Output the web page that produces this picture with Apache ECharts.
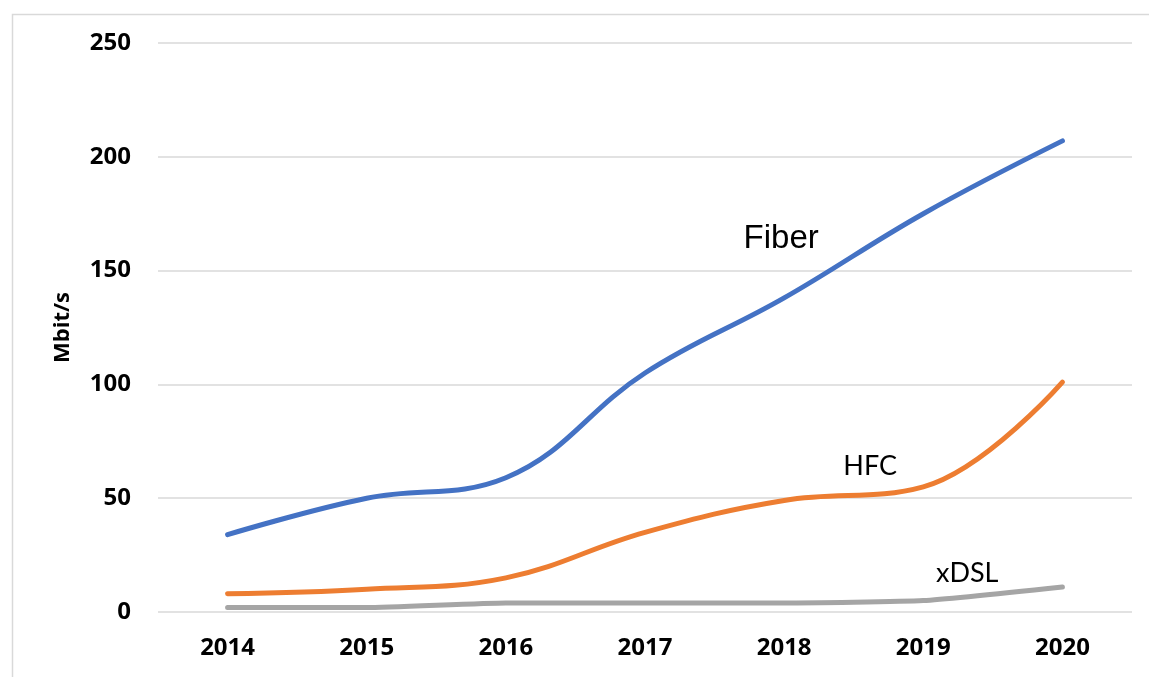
<!DOCTYPE html>
<html>
<head>
<meta charset="utf-8">
<script src="https://cdn.jsdelivr.net/npm/echarts@6/dist/echarts.min.js"></script>
<style>
  html, body { margin: 0; padding: 0; background: #fff; }
  #chart { width: 1149px; height: 677px; }
</style>
</head>
<body>
<div id="chart"></div>
<script>
// Average broadband download speed by access technology (Mbit/s)
const years = ['2014', '2015', '2016', '2017', '2018', '2019', '2020'];
const fiber = [34, 50, 59, 105, 138, 175, 207];
const hfc = [8, 10, 15, 35, 49, 55, 101];
const xdsl = [2, 2, 4, 4, 4, 5, 11];
const yTicks = [0, 50, 100, 150, 200, 250];

const chart = echarts.init(document.getElementById('chart'), null, { renderer: 'canvas' });

function seriesLine(name, data, color, smooth, tag) {
  return {
    name: name,
    type: 'line',
    data: data,
    smooth: smooth,
    symbol: 'none',
    lineStyle: { color: color, width: 5, cap: 'round', join: 'round' },
    itemStyle: { color: color },
    silent: true,
    markPoint: tag ? {
      symbol: 'circle',
      symbolSize: 0,
      silent: true,
      data: [{ coord: tag.coord, label: {
        show: true, formatter: name, color: '#000',
        fontFamily: tag.font, fontSize: tag.size, offset: tag.offset
      } }]
    } : undefined
  };
}

chart.setOption({
  animation: false,
  backgroundColor: '#ffffff',
  graphic: [{
    type: 'rect', left: 10, top: 12,
    shape: { width: 1200, height: 700 },
    style: { fill: 'none', stroke: '#d9d9d9', lineWidth: 1.5 }
  }],
  grid: { left: 158, right: 17, top: 43, bottom: 65 },
  xAxis: {
    type: 'category',
    data: years,
    boundaryGap: true,
    axisLine: { show: false },
    axisTick: { show: false },
    axisLabel: { color: '#000', fontFamily: 'Open Sans', fontWeight: 'bold', fontSize: 24, margin: 24 }
  },
  yAxis: {
    type: 'value',
    min: yTicks[0],
    max: yTicks[yTicks.length - 1],
    interval: 50,
    name: 'Mbit/s',
    nameLocation: 'middle',
    nameGap: 84,
    nameRotate: 90,
    nameTextStyle: { color: '#000', fontFamily: 'Open Sans', fontWeight: 'bold', fontSize: 22 },
    axisLine: { show: false },
    axisTick: { show: false },
    axisLabel: { color: '#000', fontFamily: 'Open Sans', fontWeight: 'bold', fontSize: 24, margin: 27 },
    splitLine: { lineStyle: { color: '#d9d9d9', width: 1.5 } }
  },
  series: [
    seriesLine('Fiber', fiber, '#4472C4', 0.4,
      { coord: ['2018', 165], font: 'Liberation Sans', size: 33, offset: [-3, 2] }),
    seriesLine('HFC', hfc, '#ED7D31', 0.4,
      { coord: ['2018', 64], font: 'Lato', size: 27, offset: [86, 0] }),
    seriesLine('xDSL', xdsl, '#A5A5A5', 0.15,
      { coord: ['2019', 17], font: 'Lato', size: 27, offset: [44, 0] })
  ]
});
</script>
</body>
</html>
